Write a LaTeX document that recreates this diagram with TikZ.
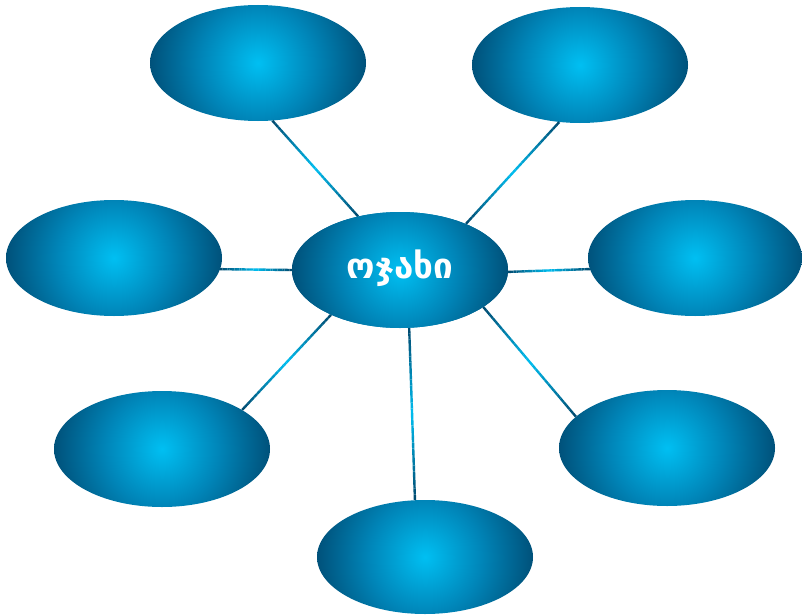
\documentclass[tikz,border=0pt]{standalone}
\usepackage{fontspec}
\newfontfamily\geofont[Script=Georgian]{DejaVu Sans}
\usetikzlibrary{calc,shapes.geometric}
\definecolor{linelight}{RGB}{0,190,240}
\definecolor{linedark}{RGB}{0,72,110}
\pgfdeclareradialshading{bubshade}{\pgfpoint{0bp}{0bp}}{%
  rgb(0bp)=(0,0.75,0.95); rgb(13bp)=(0,0.52,0.72);
  rgb(25bp)=(0,0.31,0.47); rgb(50bp)=(0,0.31,0.47)}
\tikzset{
  bubble/.style={ellipse, minimum width=216pt, minimum height=116pt, inner sep=0pt,
    path picture={\shade[shading=bubshade]
      (path picture bounding box.center) circle (110pt);}},
  centerlabel/.style={text=white, font=\geofont\bfseries\fontsize{35}{35}\selectfont}
}
\newcommand{\gradline}[2]{%
  \foreach \i in {0,...,29}{%
    \pgfmathsetmacro{\ta}{\i/30}%
    \pgfmathsetmacro{\tb}{(\i+1)/30}%
    \pgfmathsetmacro{\pc}{100*(1-abs(2*(\i+0.5)/30-1))}%
    \draw[line width=2.4pt, line cap=butt, color=linelight!\pc!linedark]
      ($(#1)!\ta!(#2)$) -- ($(#1)!\tb!(#2)$);
  }%
}
\begin{document}
\begin{tikzpicture}[x=1pt,y=-1pt]
\useasboundingbox (0,0) rectangle (802,615);
\node[bubble] (tl) at (258,63) {};
\node[bubble] (tr) at (580,65) {};
\node[bubble] (l) at (114,258) {};
\node[bubble, minimum width=214pt] (r) at (695,258) {};
\node[bubble] (bl) at (162,449) {};
\node[bubble] (br) at (667,448) {};
\node[bubble, minimum height=114pt] (b) at (425,557) {};
\node[bubble] (c) at (400,270) {};
% connectors
\coordinate (tl1) at (tl.-76.6);
\coordinate (c1) at (c.128);
\coordinate (tr1) at (tr.-110.2);
\coordinate (c2) at (c.35.2);
\coordinate (l1) at (l.-6);
\coordinate (c3) at (c.180);
\coordinate (r1) at (r.186.5);
\coordinate (c4) at (c.-1.6);
\coordinate (bl1) at (bl.26);
\coordinate (c5) at (c.213);
\coordinate (br1) at (br.161.6);
\coordinate (c6) at (c.-24.9);
\coordinate (b1) at (b.100.9);
\coordinate (c7) at (c.-81.2);
\gradline{tl1}{c1}
\gradline{tr1}{c2}
\gradline{l1}{c3}
\gradline{r1}{c4}
\gradline{bl1}{c5}
\gradline{br1}{c6}
\gradline{b1}{c7}
\node[bubble] (c) at (400,270) {};
\node[centerlabel] (clabel) at (400,268) {ოჯახი};
\end{tikzpicture}
\end{document}
